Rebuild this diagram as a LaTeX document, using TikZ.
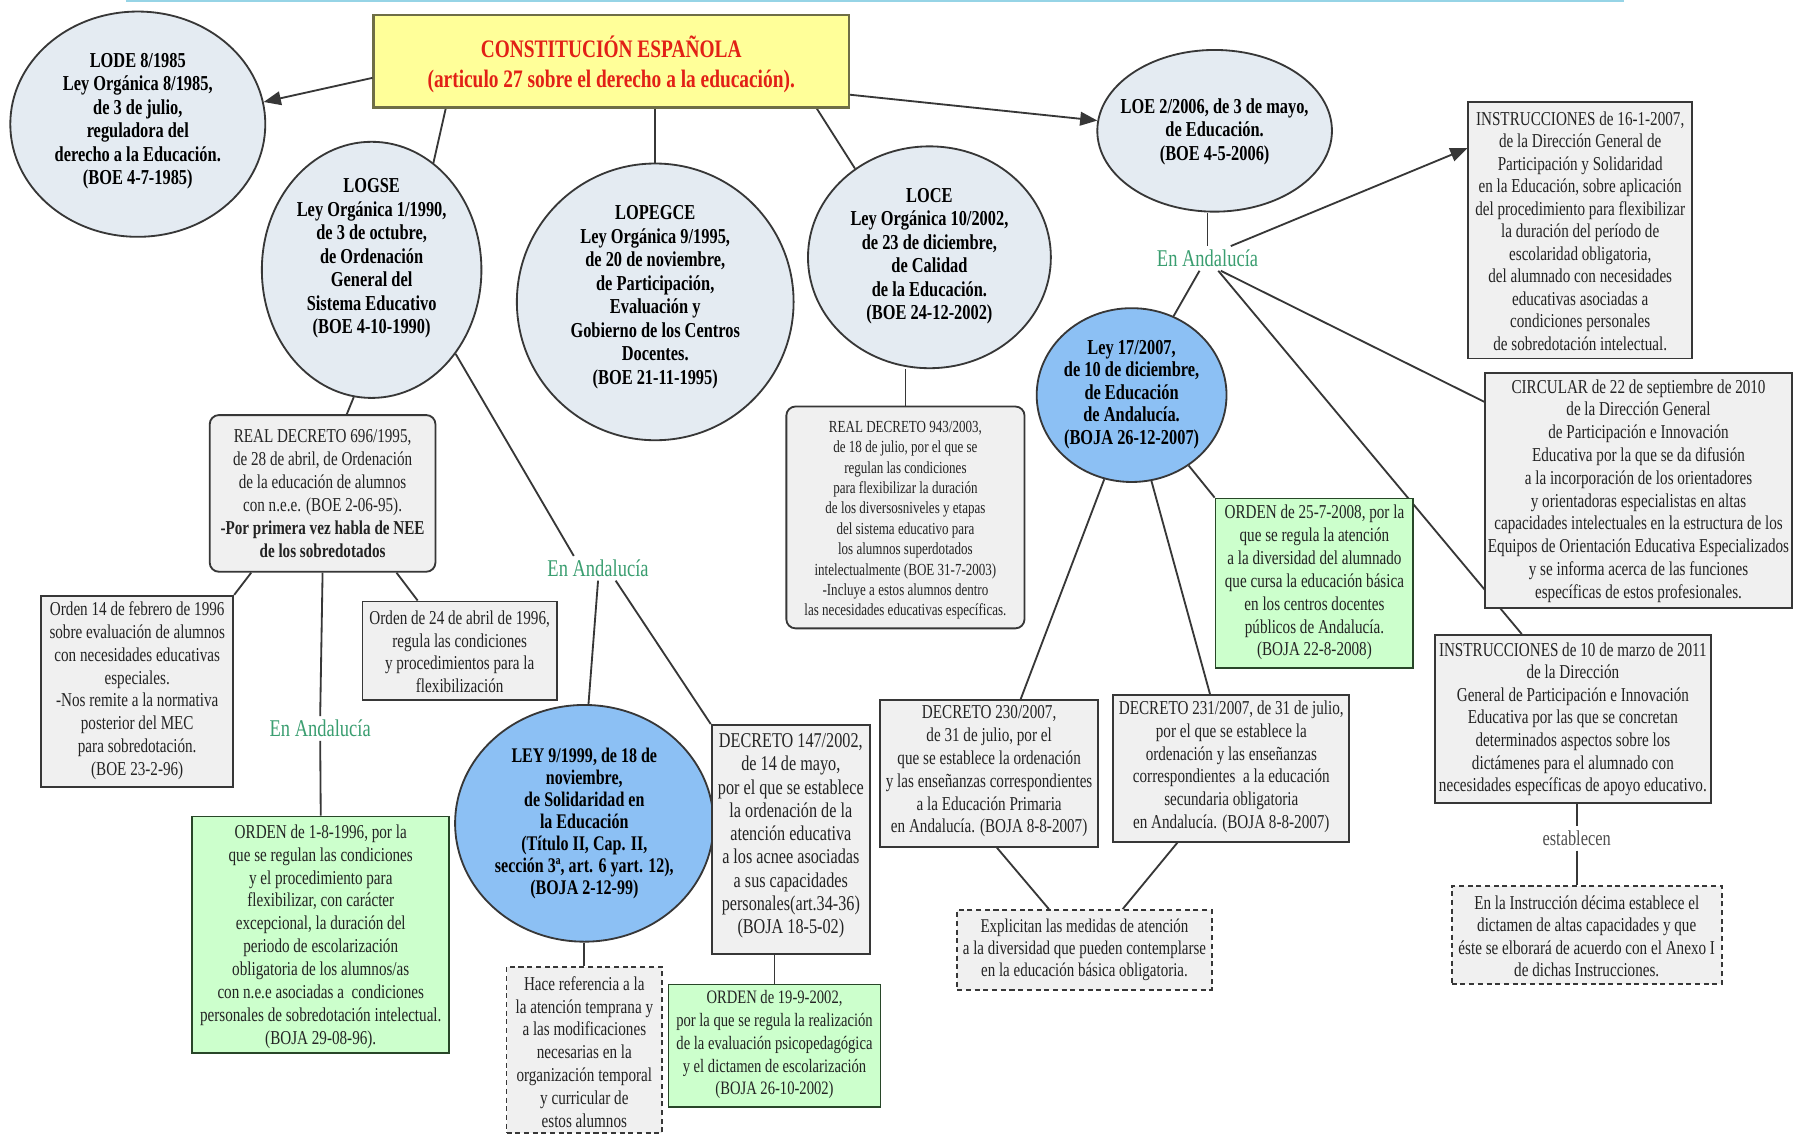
\documentclass[tikz,border=0pt]{standalone}
\usepackage{fontspec}
\setmainfont{Liberation Serif}[FakeStretch=0.77]
\usetikzlibrary{shapes.geometric,arrows.meta}
\pgfdeclarelayer{paper}
\pgfdeclarelayer{links}
\pgfsetlayers{paper,links,main}

\definecolor{lawfill}{RGB}{228,235,242}
\definecolor{andfill}{RGB}{140,192,244}
\definecolor{docfill}{RGB}{240,240,240}
\definecolor{ordfill}{RGB}{204,255,204}
\definecolor{cefill}{RGB}{255,255,153}
\definecolor{ceedge}{RGB}{110,110,70}
\definecolor{cered}{RGB}{226,32,22}
\definecolor{edge}{RGB}{55,55,55}
\definecolor{ordedge}{RGB}{40,70,40}
\definecolor{ink}{RGB}{35,35,35}
\definecolor{andgreen}{RGB}{58,158,112}
\definecolor{rulecol}{RGB}{150,212,230}

\begin{document}
\begin{tikzpicture}[x=0.5pt,y=-0.5pt,
  law/.style={ellipse, draw=edge, line width=0.8pt, fill=lawfill, inner sep=0pt},
  lawand/.style={law, fill=andfill},
  lawtext/.style={align=center, text=black, inner sep=0pt, font=\fontsize{9.3}{10.3}\selectfont\bfseries},
  doc/.style={rectangle, draw=edge, line width=0.8pt, fill=docfill, inner sep=0pt},
  docround/.style={doc, rounded corners=4pt},
  ord/.style={doc, fill=ordfill, draw=ordedge},
  note/.style={doc, dash pattern=on 2.2pt off 1.6pt},
  ce/.style={doc, fill=cefill, draw=ceedge, line width=1pt},
  body/.style={align=center, text=ink, inner sep=0pt, font=\fontsize{8.6}{10}\selectfont},
  small/.style={body, font=\fontsize{7.4}{8.9}\selectfont},
  region/.style={text=andgreen, inner sep=1.5pt, font=\fontsize{10.5}{12}\selectfont},
  verb/.style={text=ink!80, inner sep=2pt, font=\fontsize{9.3}{11}\selectfont},
  link/.style={draw=edge, line width=0.8pt},
  arrowlink/.style={link, -{Triangle[length=7.5pt,width=6pt]}}
]
\useasboundingbox (0,0) rectangle (1568,994);
\begin{pgfonlayer}{paper}
  \fill[white] (0,0) rectangle (1568,994);
\end{pgfonlayer}
\draw[rulecol, line width=1pt] (110,1) -- (1420,1);

% ---- Constitution and organic laws ----
\node[ce, minimum width=207.75pt, minimum height=40.5pt] (const) at (534.5,53.5) {};
\node[align=center, text=cered, inner sep=0pt, font=\fontsize{11}{13}\selectfont\bfseries] (constt) at (534.5,56)
  {CONSTITUCIÓN ESPAÑOLA\\(articulo 27 sobre el derecho a la educación).};

\node[law, minimum width=111.5pt, minimum height=98.5pt] (lode) at (120.5,108.6) {};
\node[lawtext] (lodet) at (120.5,106)
  {LODE 8/1985\\Ley Orgánica 8/1985,\\de 3 de julio,\\reguladora del\\derecho a la Educación.\\(BOE 4-7-1985)};

\node[law, minimum width=96pt, minimum height=112pt] (logse) at (325,236) {};
\node[lawtext] (logset) at (325,226)
  {LOGSE\\Ley Orgánica 1/1990,\\de 3 de octubre,\\de Ordenación\\General del\\Sistema Educativo\\(BOE 4-10-1990)};

\node[law, minimum width=121pt, minimum height=121pt] (lopegce) at (573,264) {};
\node[lawtext] (lopegcet) at (573,260)
  {LOPEGCE\\Ley Orgánica 9/1995,\\de 20 de noviembre,\\de Participación,\\Evaluación y\\Gobierno de los Centros\\Docentes.\\(BOE 21-11-1995)};

\node[law, minimum width=106.2pt, minimum height=97pt] (loce) at (812.8,225) {};
\node[lawtext] (locet) at (812.8,224)
  {LOCE\\Ley Orgánica 10/2002,\\de 23 de diciembre,\\de Calidad\\de la Educación.\\(BOE 24-12-2002)};

\node[law, minimum width=102.6pt, minimum height=70.7pt] (loe) at (1062.2,114.4) {};
\node[lawtext] (loet) at (1062.2,115)
  {LOE 2/2006, de 3 de mayo,\\de Educación.\\(BOE 4-5-2006)};

% ---- LOGSE branch ----
\node[docround, minimum width=98.7pt, minimum height=68.5pt] (rd696) at (282.1,431.5) {};
\node[body] (rd696t) at (282.1,431.5)
  {REAL DECRETO 696/1995,\\de 28 de abril, de Ordenación\\de la educación de alumnos\\con n.e.e. (BOE 2-06-95).\\\textbf{-Por primera vez habla de NEE}\\\textbf{de los sobredotados}};

\node[doc, minimum width=84pt, minimum height=83.5pt] (orden14) at (120,604.5) {};
\node[body] (orden14t) at (120,604)
  {Orden 14 de febrero de 1996\\sobre evaluación de alumnos\\con necesidades educativas\\especiales.\\-Nos remite a la normativa\\posterior del MEC\\para sobredotación.\\(BOE 23-2-96)};

\node[doc, minimum width=85pt, minimum height=43pt] (orden24) at (402,569) {};
\node[body] (orden24t) at (402,570)
  {Orden de 24 de abril de 1996,\\regula las condiciones\\y procedimientos para la\\flexibilización};

\node[region] (andal1) at (280,637) {En Andalucía};

\node[ord, minimum width=112.5pt, minimum height=103.5pt] (orden18) at (280.5,817.5) {};
\node[body] (orden18t) at (280.5,819)
  {ORDEN de 1-8-1996, por la\\que se regulan las condiciones\\y el procedimiento para\\flexibilizar, con carácter\\excepcional, la duración del\\periodo de escolarización\\obligatoria de los alumnos/as\\con n.e.e asociadas a\ \ condiciones\\personales de sobredotación intelectual.\\(BOJA 29-08-96).};

\node[region] (andal2) at (523,497) {En Andalucía};

\node[lawand, minimum width=113pt, minimum height=103.5pt] (ley9) at (511,720) {};
\node[lawtext, font=\fontsize{9.1}{9.6}\selectfont\bfseries] (ley9t) at (511,720)
  {LEY 9/1999, de 18 de\\noviembre,\\de Solidaridad en\\la Educación\\(Título II, Cap. II,\\sección 3ª, art. 6 yart. 12),\\(BOJA 2-12-99)};

\node[note, minimum width=68pt, minimum height=72.8pt] (hace) at (511,918.2) {};
\node[body] (hacet) at (511,920)
  {Hace referencia a la\\la atención temprana y\\a las modificaciones\\necesarias en la\\organización temporal\\y curricular de\\estos alumnos};

\node[doc, minimum width=69.25pt, minimum height=100pt] (dec147) at (691.6,734) {};
\node[body, font=\fontsize{9.2}{10.2}\selectfont] (dec147t) at (691.6,731)
  {DECRETO 147/2002,\\de 14 de mayo,\\por el que se establece\\la ordenación de la\\atención educativa\\a los acnee asociadas\\a sus capacidades\\personales(art.34-36)\\(BOJA 18-5-02)};

\node[ord, minimum width=92.75pt, minimum height=53.5pt] (orden19) at (677.3,914.5) {};
\node[body, font=\fontsize{8.3}{10}\selectfont] (orden19t) at (677.3,913.5)
  {ORDEN de 19-9-2002,\\por la que se regula la realización\\de la evaluación psicopedagógica\\y el dictamen de escolarización\\(BOJA 26-10-2002)};

% ---- LOCE branch ----
\node[docround, minimum width=104.15pt, minimum height=97pt] (rd943) at (791.8,452.5) {};
\node[small] (rd943t) at (791.8,455)
  {REAL DECRETO 943/2003,\\de 18 de julio, por el que se\\regulan las condiciones\\para flexibilizar la duración\\de los diversosniveles y etapas\\del sistema educativo para\\los alumnos superdotados\\intelectualmente (BOE 31-7-2003)\\-Incluye a estos alumnos dentro\\las necesidades educativas específicas.};

% ---- LOE branch ----
\node[region] (andal3) at (1056,226) {En Andalucía};

\node[lawand, minimum width=83pt, minimum height=76pt] (ley17) at (989.6,345.5) {};
\node[lawtext, font=\fontsize{9.3}{9.9}\selectfont\bfseries] (ley17t) at (989.6,345)
  {Ley 17/2007,\\de 10 de diciembre,\\de Educación\\de Andalucía.\\(BOJA 26-12-2007)};

\node[ord, minimum width=86.5pt, minimum height=74.25pt] (orden25) at (1149.5,510.2) {};
\node[body] (orden25t) at (1149.5,509.5)
  {ORDEN de 25-7-2008, por la\\que se regula la atención\\a la diversidad del alumnado\\que cursa la educación básica\\en los centros docentes\\públicos de Andalucía.\\(BOJA 22-8-2008)};

\node[doc, minimum width=95.5pt, minimum height=64.15pt] (dec230) at (865,676.4) {};
\node[body] (dec230t) at (865,674.5)
  {DECRETO 230/2007,\\de 31 de julio, por el\\que se establece la ordenación\\y las enseñanzas correspondientes\\a la Educación Primaria\\en Andalucía. (BOJA 8-8-2007)};

\node[doc, minimum width=103.2pt, minimum height=64.15pt] (dec231) at (1076.8,672) {};
\node[body] (dec231t) at (1076.8,670.5)
  {DECRETO 231/2007, de 31 de julio,\\por el que se establece la\\ordenación y las enseñanzas\\correspondientes\ \ a la educación\\secundaria obligatoria\\en Andalucía. (BOJA 8-8-2007)};

\node[note, minimum width=111.2pt, minimum height=35pt] (explic) at (948.4,830.8) {};
\node[body, font=\fontsize{8.5}{9.6}\selectfont] (explict) at (948.4,831)
  {Explicitan las medidas de atención\\a la diversidad que pueden contemplarse\\en la educación básica obligatoria.};

\node[doc, minimum width=97.8pt, minimum height=112.25pt] (instr16) at (1381.9,201.2) {};
\node[body, font=\fontsize{8.6}{9.85}\selectfont] (instr16t) at (1381.9,202)
  {INSTRUCCIONES de 16-1-2007,\\de la Dirección General de\\Participación y Solidaridad\\en la Educación, sobre aplicación\\del procedimiento para flexibilizar\\la duración del período de\\escolaridad obligatoria,\\del alumnado con necesidades\\educativas asociadas a\\condiciones personales\\de sobredotación intelectual.};

\node[doc, minimum width=134.15pt, minimum height=102.75pt] (circular) at (1432.9,429.3) {};
\node[body, font=\fontsize{8.6}{9.95}\selectfont] (circulart) at (1432.9,429.3)
  {CIRCULAR de 22 de septiembre de 2010\\de la Dirección General\\de Participación e Innovación\\Educativa por la que se da difusión\\a la incorporación de los orientadores\\y orientadoras especialistas en altas\\capacidades intelectuales en la estructura de los\\Equipos de Orientación Educativa Especializados\\y se informa acerca de las funciones\\específicas de estos profesionales.};

\node[doc, minimum width=120.5pt, minimum height=73.6pt] (instr11) at (1375.5,628.9) {};
\node[body, font=\fontsize{8.6}{9.85}\selectfont] (instr11t) at (1375.5,629)
  {INSTRUCCIONES de 10 de marzo de 2011\\de la Dirección\\General de Participación e Innovación\\Educativa por las que se concretan\\determinados aspectos sobre los\\dictámenes para el alumnado con\\necesidades específicas de apoyo educativo.};

\node[verb] (establ) at (1378.8,733) {establecen};

\node[note, minimum width=118.05pt, minimum height=42.85pt] (instrX) at (1387.6,817.7) {};
\node[body, font=\fontsize{8.6}{9.8}\selectfont] (instrXt) at (1387.6,818.9)
  {En la Instrucción décima establece el\\dictamen de altas capacidades y que\\éste se elborará de acuerdo con el Anexo I\\de dichas Instrucciones.};

% ---- connectors, kept behind the shapes ----
\begin{pgfonlayer}{links}
  \draw[link] (const.196.9) -- (logse.60);
  \draw[link] (lopegce.north |- const.south) -- (lopegce.north);
  \draw[link] (const.-13.75) -- (loce.130.45);
  \draw[link] (logse.262) -- (rd696.73.2);
  \draw[link] (rd696.228.3) -- (orden14.north east);
  \draw[link] (rd696.-47) -- (orden24.130.7);
  \draw[link] (rd696.south) -- (andal1.north);
  \draw[link] (andal1.south) -- (orden18.north);
  \draw[link] (logse.-45) -- (andal2.153.2);
  \draw[link] (andal2.south) -- (ley9.88);
  \draw[link] (andal2.-35.7) -- (dec147.north west);
  \draw[link] (ley9.south) -- (hace.north);
  \draw[link] (orden19.north) -- (orden19.north |- dec147.south);
  \draw[link] (rd943.north) -- (rd943.north |- loce.south);
  \draw[link] (andal3.north |- loe.south) -- (andal3.north);
  \draw[link] (andal3.237.6) -- (ley17.62.5);
  \draw[link] (andal3.-43.8) -- (circular.150.8);
  \draw[link] (andal3.-49) -- (instr11.121.7);
  \draw[link] (ley17.-51.4) -- (orden25.north west);
  \draw[link] (ley17.252.6) -- (dec230.67.3);
  \draw[link] (ley17.-77.7) -- (dec231.106.8);
  \draw[link] (dec230.-84.1) -- (explic.131.3);
  \draw[link] (dec231.234.1) -- (explic.47.1);
  \draw[link] (establ.north |- instr11.south) -- (establ.north);
  \draw[link] (establ.south) -- (establ.south |- instrX.north);
\end{pgfonlayer}

\draw[arrowlink] (const.184.1) -- (lode.10.5);
\draw[arrowlink] (const.-8.4) -- (loe.175.7);
\draw[arrowlink] (andal3.28.8) -- (instr16.144.4);
\end{tikzpicture}
\end{document}
